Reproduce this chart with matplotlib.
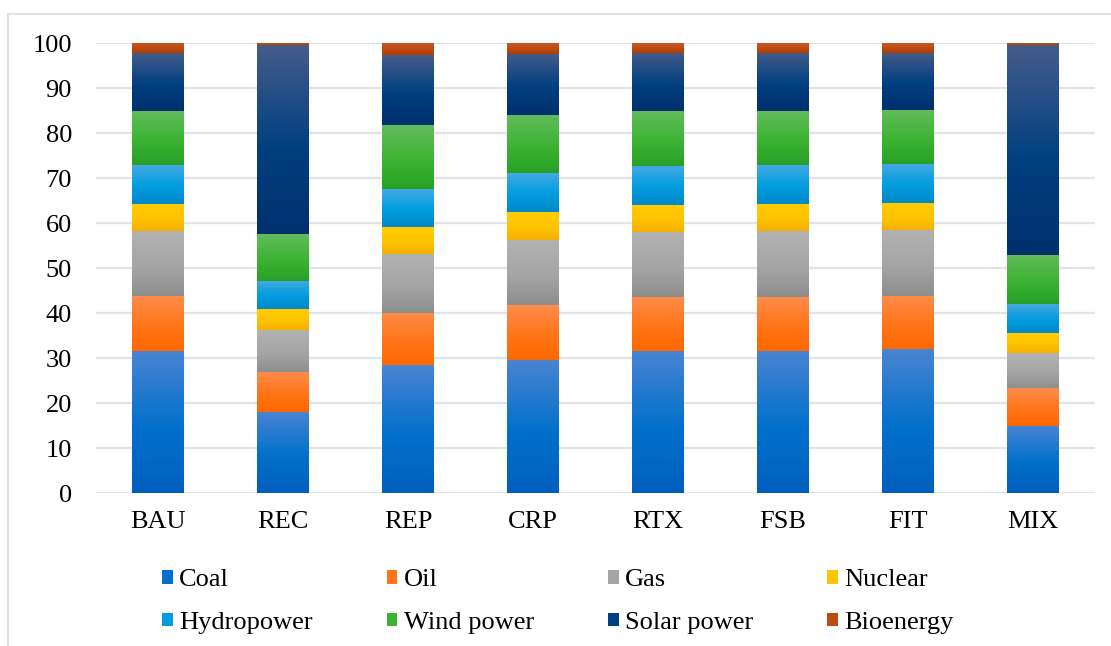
import numpy as np
import matplotlib
matplotlib.use("Agg")
import matplotlib.pyplot as plt
from matplotlib.colors import to_rgb
from matplotlib.patches import Rectangle

scenarios = ["BAU", "REC", "REP", "CRP", "RTX", "FSB", "FIT", "MIX"]
sources = ["Coal", "Oil", "Gas", "Nuclear", "Hydropower", "Wind power", "Solar power", "Bioenergy"]

coal = [31.6, 18.1, 28.4, 29.6, 31.6, 31.6, 31.9, 15.0]
oil = [12.2, 8.9, 11.6, 12.2, 12.0, 12.0, 11.9, 8.4]
gas = [14.4, 9.2, 13.2, 14.5, 14.5, 14.6, 14.7, 7.7]
nuclear = [6.0, 4.7, 5.9, 6.1, 5.9, 6.0, 5.9, 4.5]
hydro = [8.7, 6.3, 8.5, 8.7, 8.7, 8.7, 8.7, 6.4]
wind = [12.0, 10.4, 14.2, 12.9, 12.2, 12.0, 12.0, 10.9]
solar = [12.8, 41.9, 15.5, 13.6, 12.9, 12.9, 12.7, 46.6]
bio = [2.3, 0.5, 2.7, 2.4, 2.2, 2.2, 2.2, 0.5]

series = [coal, oil, gas, nuclear, hydro, wind, solar, bio]

# gradient stops per source: top, middle, bottom
grads = [
    ("#4a84d2", "#0070cc", "#005fbd"),
    ("#ff8c4c", "#ff7518", "#ff6800"),
    ("#b2b2b2", "#a5a5a5", "#8e8e8e"),
    ("#ffcc00", "#ffc300", "#f5b000"),
    ("#45a9e2", "#009ddf", "#0088c8"),
    ("#62bc5c", "#3cb332", "#28a028"),
    ("#445c8a", "#003f80", "#00306e"),
    ("#c8582a", "#bf4a10", "#b03c00"),
]


def gradient(top, mid, bot, n=64):
    t = np.linspace(0, 1, n)  # 0 = bottom, 1 = top
    top, mid, bot = np.array(to_rgb(top)), np.array(to_rgb(mid)), np.array(to_rgb(bot))
    out = np.zeros((n, 1, 3))
    for i, v in enumerate(t):
        if v < 0.45:
            f = v / 0.45
            out[i, 0] = bot * (1 - f) + mid * f
        else:
            f = (v - 0.45) / 0.55
            out[i, 0] = mid * (1 - f) + top * f
    return out


plt.rcParams["font.family"] = ["Liberation Serif", "DejaVu Serif"]

fig = plt.figure(figsize=(11.11, 6.46), dpi=100)
ax = fig.add_axes([0.086, 0.2368, 0.900, 0.6966])

x = np.arange(len(scenarios))
bottom = np.zeros(len(scenarios))
for vals, name, g in zip(series, sources, grads):
    bars = ax.bar(x, vals, 0.41, bottom=bottom, color="none", linewidth=0, label=name)
    img = gradient(*g)
    for p in bars.patches:
        x0, y0 = p.get_x(), p.get_y()
        ax.imshow(img, extent=[x0, x0 + p.get_width(), y0, y0 + p.get_height()],
                  origin="lower", aspect="auto", interpolation="bilinear", zorder=3)
    bottom += np.array(vals)

ax.set_xlim(-0.5, len(scenarios) - 0.5)
ax.set_ylim(0, 100)
ax.set_yticks(range(0, 101, 10))
ax.set_xticks(x)
ax.set_xticklabels(scenarios)
ax.yaxis.grid(True, color="#dfe3ea", linewidth=1.6, zorder=0)
ax.set_axisbelow(True)
for s in ax.spines.values():
    s.set_visible(False)
ax.tick_params(axis="both", length=0, labelsize=19, colors="black")
ax.tick_params(axis="y", pad=17)
ax.tick_params(axis="x", pad=13)

# legend fills column by column, so reorder to read row-wise
order = [0, 4, 1, 5, 2, 6, 3, 7]
handles = [Rectangle((0, 0), 1, 1, facecolor=grads[i][1]) for i in order]
labels = [sources[i] for i in order]
fig.legend(handles, labels, loc="upper left", bbox_to_anchor=(0.134, 0.139), ncol=4,
           frameon=False, fontsize=19, handlelength=0.4, handleheight=0.4,
           handletextpad=0.25, columnspacing=2.8, labelspacing=0.78, borderpad=0)

fig.patches.append(Rectangle((8 / 1111, -0.1), 1.2, 1.1 - 14 / 646, transform=fig.transFigure,
                             fill=False, edgecolor="#dde2e8", linewidth=1.5))

fig.savefig("out.png", dpi=100)
